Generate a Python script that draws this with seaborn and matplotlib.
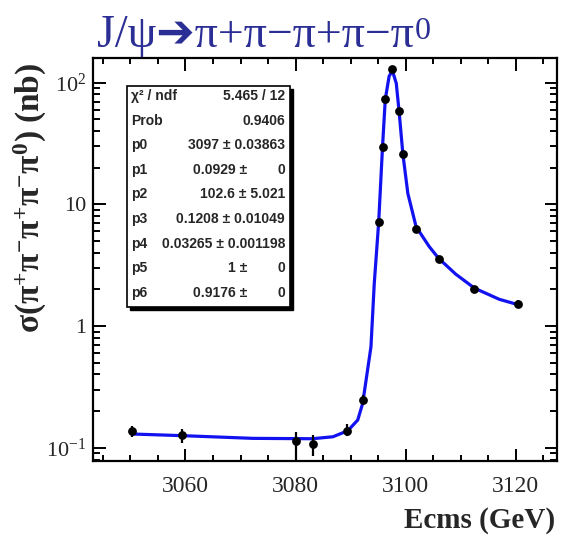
import numpy as np
import pandas as pd
import matplotlib
matplotlib.use('Agg')
import matplotlib.pyplot as plt
import seaborn as sns
from matplotlib.ticker import FixedLocator, MultipleLocator, LogLocator, NullFormatter, FixedFormatter
from matplotlib.patches import Rectangle

# ---------------- data ----------------
energy = [3050.2, 3059.3, 3080.1, 3083.1, 3089.4, 3092.2, 3095.1, 3095.8,
          3096.3, 3097.6, 3098.8, 3099.5, 3101.9, 3106.0, 3112.5, 3120.4]
xsec = [0.137, 0.127, 0.1135, 0.1066, 0.138, 0.2466, 7.11, 29.7,
        72.9, 129.4, 58.7, 25.9, 6.25, 3.55, 2.03, 1.52]
err_lo = [0.014, 0.017, 0.035, 0.021, 0.012, 0.024, 0.35, 1.5,
          3.5, 7.0, 3.0, 1.3, 0.3, 0.15, 0.10, 0.12]
err_hi = [0.014, 0.015, 0.020, 0.020, 0.020, 0.024, 0.35, 1.5,
          3.5, 7.0, 3.0, 1.3, 0.3, 0.15, 0.10, 0.12]

fit_energy = [3050.2, 3059.6, 3072.3, 3083.1, 3086.8, 3089.5, 3091.3, 3092.2,
              3093.7, 3094.3, 3095.1, 3095.8, 3096.3, 3097.0, 3097.6, 3098.3,
              3098.8, 3099.5, 3100.4, 3101.9, 3104.3, 3106.0, 3109.1, 3112.5,
              3117.0, 3120.4]
fit_xsec = [0.1297, 0.1256, 0.1194, 0.1186, 0.1231, 0.138, 0.169, 0.232,
            0.676, 2.24, 7.11, 29.7, 72.9, 113.0, 125.4, 98.7,
            58.7, 25.9, 12.3, 6.55, 4.49, 3.60, 2.67, 2.05,
            1.66, 1.50]

x_major = [3060, 3080, 3100, 3120]
x_labels = ['3060', '3080', '3100', '3120']
y_major = [0.1, 1, 10, 100]
y_labels = [r'$10^{-1}$', '1', '10', r'$10^{2}$']

stat_names = ['\u03c7\u00b2 / ndf', 'Prob', 'p0', 'p1', 'p2', 'p3', 'p4', 'p5', 'p6']
stat_values = ['5.465 / 12', '0.9406', '3097 \u00b1 0.03863', '0.0929 \u00b1',
               '102.6 \u00b1 5.021', '0.1208 \u00b1 0.01049', '0.03265 \u00b1 0.001198',
               '1 \u00b1', '0.9176 \u00b1']
stat_zero_err = [False, False, False, True, False, False, False, True, True]

title_main = 'J/\u03c8\u2794\u03c0+\u03c0\u2212\u03c0+\u03c0\u2212\u03c0'
title_sup = '0'
xlabel = 'Ecms (GeV)'
ylabel = r'$\mathbf{\sigma(\pi^{+}\pi^{-}\pi^{+}\pi^{-}\pi^{0})\ (nb)}$'

# ---------------- style ----------------
sns.set_theme(style='ticks')
plt.rcParams['font.family'] = ['Liberation Serif', 'DejaVu Sans']
plt.rcParams['mathtext.fontset'] = 'custom'
plt.rcParams['mathtext.rm'] = 'Liberation Serif'
plt.rcParams['mathtext.it'] = 'Liberation Serif:italic'
plt.rcParams['mathtext.bf'] = 'Liberation Serif:bold'

W, H = 561, 541
fig = plt.figure(figsize=(W / 100, H / 100), dpi=100)
fig.patch.set_facecolor('white')
ax = fig.add_axes([93 / W, 1 - 461 / H, 464 / W, 403 / H])
ax.set_facecolor('white')

df_fit = pd.DataFrame({'E': fit_energy, 'sigma': fit_xsec})
sns.lineplot(data=df_fit, x='E', y='sigma', ax=ax, color='#1212f0', lw=2.3,
             sort=False, estimator=None, zorder=2)

df_pts = pd.DataFrame({'E': energy, 'sigma': xsec})
ax.errorbar(energy, xsec, yerr=[err_lo, err_hi], fmt='none', ecolor='black',
            elinewidth=1.6, capsize=0, zorder=3)
sns.scatterplot(data=df_pts, x='E', y='sigma', ax=ax, color='black', s=40,
                edgecolor='black', linewidth=0, zorder=4)

ax.set_yscale('log')
ax.set_xlim(3043.2, 3127.5)
ax.set_ylim(0.0778, 159.6)

ax.xaxis.set_major_locator(FixedLocator(x_major))
ax.xaxis.set_major_formatter(FixedFormatter(x_labels))
ax.xaxis.set_minor_locator(MultipleLocator(5))
ax.yaxis.set_major_locator(FixedLocator(y_major))
ax.yaxis.set_major_formatter(FixedFormatter(y_labels))
ax.yaxis.set_minor_locator(LogLocator(base=10, subs=np.arange(2, 10)))
ax.yaxis.set_minor_formatter(NullFormatter())

for s in ax.spines.values():
    s.set_linewidth(1.6)
    s.set_color('black')
    s.set_visible(True)

ax.tick_params(which='both', direction='in', top=True, right=True,
               width=1.4, color='black')
ax.tick_params(axis='x', which='major', length=9, pad=11, labelsize=17)
ax.tick_params(axis='x', which='minor', length=4.5)
ax.tick_params(axis='y', which='major', length=9, pad=5, labelsize=16)
ax.tick_params(axis='y', which='minor', length=5)
ax.set_xlabel('')
ax.set_ylabel('')

# axis titles
fig.text(555 / W, 1 - 520 / H, xlabel, ha='right', va='center',
         fontsize=21, fontweight='bold')
fig.text(30 / W, 1 - 198 / H, ylabel, ha='center', va='center',
         rotation=90, fontsize=24)

# title
t = fig.text(97 / W, 1 - 47 / H, title_main, ha='left', va='baseline',
             fontsize=33, color='#2B2E94')
fig.canvas.draw()
bb = t.get_window_extent()
fig.text(bb.x1 / W + 0.002, 1 - 39 / H, title_sup, ha='left', va='baseline',
         fontsize=23, color='#2B2E94')

# stats box (ROOT style)
bx0, bx1 = (127 - 93) / 464, (290 - 93) / 464
by0, by1 = 1 - (307 - 58) / 403, 1 - (86 - 58) / 403
shadow = Rectangle((bx0 + 3 / 464, by0 - 3 / 403), bx1 - bx0, by1 - by0,
                   transform=ax.transAxes, facecolor='black', edgecolor='black',
                   lw=1, zorder=5)
box = Rectangle((bx0, by0), bx1 - bx0, by1 - by0, transform=ax.transAxes,
                facecolor='white', edgecolor='black', lw=1.2, zorder=6)
ax.add_patch(shadow)
ax.add_patch(box)

sfam = ['Liberation Sans', 'DejaVu Sans']
row_y0, row_dy = 96, 24.6
for i, (nm, val, ze) in enumerate(zip(stat_names, stat_values, stat_zero_err)):
    yy = 1 - (row_y0 + i * row_dy - 58) / 403
    ax.text((131 - 93) / 464, yy, nm, transform=ax.transAxes, ha='left',
            va='center', fontsize=10, fontweight='bold', family=sfam, zorder=7)
    if ze:
        ax.text((247 - 93) / 464, yy, val, transform=ax.transAxes, ha='right',
                va='center', fontsize=10, fontweight='bold', family=sfam, zorder=7)
        ax.text((285 - 93) / 464, yy, '0', transform=ax.transAxes, ha='right',
                va='center', fontsize=10, fontweight='bold', family=sfam, zorder=7)
    else:
        ax.text((285 - 93) / 464, yy, val, transform=ax.transAxes, ha='right',
                va='center', fontsize=10, fontweight='bold', family=sfam, zorder=7)

fig.savefig('out.png', dpi=100, facecolor='white')
